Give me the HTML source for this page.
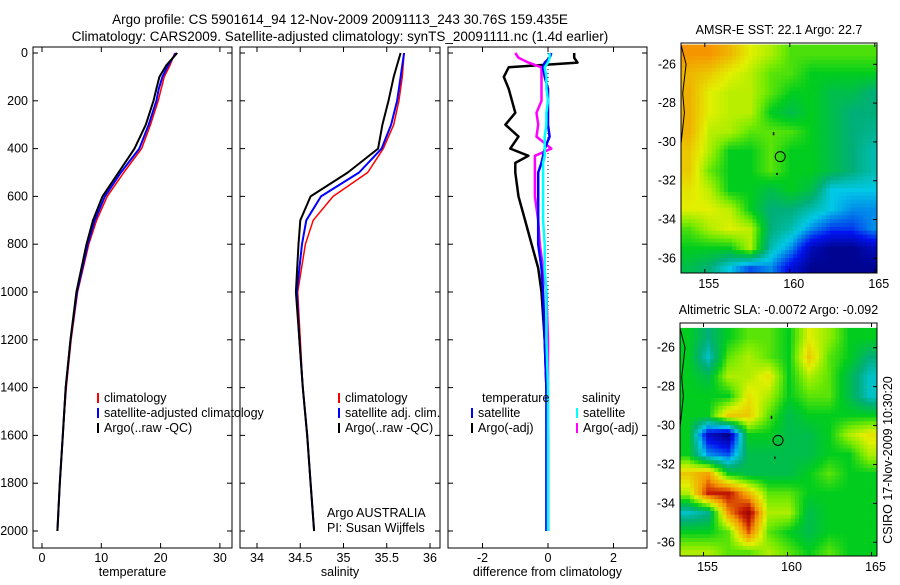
<!DOCTYPE html>
<html><head><meta charset="utf-8"><style>
body{margin:0;background:#fff;width:900px;height:580px;overflow:hidden}
svg text{font-family:"Liberation Sans",sans-serif;font-size:12.5px;fill:#000}
</style></head><body>
<svg id="fig" width="900" height="580" xmlns="http://www.w3.org/2000/svg">
<defs>
<clipPath id="c1"><rect x="681" y="43" width="196" height="230"/></clipPath>
<clipPath id="c2"><rect x="680" y="323" width="197" height="233"/></clipPath>
</defs>
<text x="340" y="24" text-anchor="middle" style="font-size:13.5px">Argo profile: CS 5901614_94 12-Nov-2009 20091113_243 30.76S 159.435E</text>
<text x="340" y="41" text-anchor="middle" style="font-size:13.5px">Climatology: CARS2009. Satellite-adjusted climatology: synTS_20091111.nc (1.4d earlier)</text>
<g id="plots"></g>
<text transform="translate(892,460) rotate(-90)" text-anchor="middle">CSIRO 17-Nov-2009 10:30:20</text>
</svg>
<script>
const depths=[0,50,100,150,200,300,400,500,600,700,800,1000,1200,1400,1600,1800,2000];
const tClim=[22.4,21.6,20.6,20.1,19.6,18.3,16.8,13.8,11.0,9.2,7.9,6.0,4.9,4.1,3.5,3.0,2.6];
const tSat=[22.6,21.3,20.3,19.7,19.3,18.0,16.4,13.3,10.6,8.9,7.7,5.9,4.8,4.0,3.5,3.0,2.6];
const tArgo=[22.8,21.0,19.8,19.3,18.8,17.5,15.6,12.9,10.2,8.6,7.5,5.8,4.8,4.0,3.5,3.0,2.6];
const sClim=[35.70,35.69,35.68,35.66,35.64,35.58,35.46,35.28,34.88,34.65,34.56,34.47,34.50,34.53,34.58,34.62,34.66];
const sSat=[35.70,35.68,35.66,35.64,35.62,35.55,35.44,35.18,34.74,34.57,34.52,34.46,34.49,34.53,34.58,34.62,34.66];
const sArgo=[35.66,35.62,35.58,35.55,35.52,35.45,35.40,35.05,34.62,34.50,34.48,34.45,34.49,34.53,34.58,34.62,34.66];
const ddepths=[0,20,40,60,100,150,200,250,300,350,400,430,460,500,600,700,800,900,1000,1200,1400,1600,2000];
const dT=[0.8,0.8,0.9,-1.2,-1.35,-1.2,-1.1,-1.0,-1.3,-0.9,-1.15,-0.6,-1.0,-1.0,-0.9,-0.7,-0.5,-0.3,-0.2,-0.1,-0.05,0,0];
const dTsat=[0.1,0.05,-0.1,-0.15,-0.1,0.0,0.0,0.0,0.0,0.05,-0.1,-0.15,-0.2,-0.3,-0.3,-0.3,-0.3,-0.2,-0.15,-0.1,-0.05,-0.05,-0.05];
const dS=[-1.0,-0.9,-0.6,-0.2,-0.2,-0.2,-0.2,-0.35,-0.3,-0.35,0.1,-0.4,-0.4,-0.4,-0.4,-0.3,-0.25,-0.15,-0.05,0,0,0,0];
const dSsat=[0.05,0.05,0.0,-0.1,-0.05,-0.05,0.0,-0.05,-0.05,-0.1,-0.1,-0.1,-0.15,-0.15,-0.15,-0.15,-0.1,-0.1,-0.05,-0.05,0,0,0];
const sstGrid=[
[.8,.8,.75,.66,.62,.55,.55,.55,.55,.55],
[.75,.72,.66,.63,.56,.55,.5,.5,.5,.5],
[.76,.66,.63,.63,.56,.5,.5,.45,.45,.4],
[.76,.66,.63,.63,.5,.45,.5,.45,.4,.4],
[.76,.63,.62,.56,.56,.55,.5,.45,.4,.38],
[.72,.62,.5,.5,.56,.5,.5,.45,.4,.35],
[.72,.57,.5,.5,.56,.5,.5,.45,.4,.35],
[.68,.63,.5,.5,.45,.5,.45,.3,.3,.3],
[.66,.66,.63,.5,.4,.4,.35,.3,.25,.25],
[.55,.62,.66,.63,.4,.35,.25,.18,.18,.25],
[.5,.5,.5,.62,.35,.25,.08,.03,.03,.08],
[.45,.4,.3,.2,.25,.12,.03,.03,.03,.03]];
const slaGrid=[
[.5,.4,.5,.56,.56,.5,.66,.6,.5,.5],
[.5,.33,.56,.62,.56,.5,.72,.56,.5,.4],
[.5,.45,.62,.62,.68,.5,.62,.56,.45,.33],
[.5,.5,.5,.68,.62,.5,.56,.56,.45,.33],
[.5,.5,.72,.72,.56,.45,.5,.5,.5,.5],
[.5,.1,.02,.5,.5,.45,.45,.5,.62,.68],
[.5,.25,.2,.45,.45,.45,.45,.5,.5,.62],
[.72,.78,.5,.45,.45,.45,.5,.56,.5,.5],
[.62,.9,.92,.75,.56,.56,.5,.5,.5,.5],
[.33,.38,.8,.97,.62,.62,.45,.5,.5,.5],
[.5,.5,.56,.85,.56,.5,.45,.5,.5,.5],
[.62,.62,.56,.56,.62,.56,.5,.56,.5,.5]];
const floatLon=159.435, floatLat=-30.76;

const NS='http://www.w3.org/2000/svg';
const G=document.getElementById('plots');
function el(t,a,p){const e=document.createElementNS(NS,t);for(const k in a)e.setAttribute(k,a[k]);(p||G).appendChild(e);return e;}
function tx(x,y,s,anc,p){const e=el('text',{x:x,y:y,'text-anchor':anc||'middle'},p);e.textContent=s;return e;}
const yD=d=>53+d*0.239;
function line(xs,ds,sc,col,w,name){
  const pts=xs.map((v,i)=>sc(v).toFixed(1)+','+yD(ds[i]).toFixed(1)).join(' ');
  const e=el('polyline',{points:pts,fill:'none',stroke:col,'stroke-width':w,'stroke-linejoin':'round'});
  
  
}
function panel(x0,x1,sc,ticks,labels,xlabel,name,showY){
  const f=el('rect',{x:x0,y:47,width:x1-x0,height:501,fill:'none',stroke:'#000','stroke-width':1});
  
  
  ticks.forEach((v,i)=>{const x=sc(v);el('line',{x1:x,x2:x,y1:47,y2:52,stroke:'#000'});el('line',{x1:x,x2:x,y1:543,y2:548,stroke:'#000'});
    const t=tx(x,562,labels[i]);});
  for(let d=0;d<=2000;d+=200){const y=yD(d);el('line',{x1:x0,x2:x0+5,y1:y,y2:y,stroke:'#000'});el('line',{x1:x1-5,x2:x1,y1:y,y2:y,stroke:'#000'});
    if(showY){const t=tx(28,y+4,String(d),'end');}}
  const xl=tx((x0+x1)/2,576,xlabel);
}
const sT=v=>42+v*5.93, sS=v=>257+(v-34)*86.5, sD=v=>548+v*32.75;
panel(33,232,sT,[0,10,20,30],['0','10','20','30'],'temperature','temperature-panel',true);
panel(240,440,sS,[34,34.5,35,35.5,36],['34','34.5','35','35.5','36'],'salinity','salinity-panel',false);
panel(448,647,sD,[-2,0,2],['-2','0','2'],'difference from climatology','difference-panel',false);
el('line',{x1:548,x2:548,y1:53,y2:531,stroke:'#000','stroke-dasharray':'1,3'});
line(tClim,depths,sT,'#f00',1.5,'temp-climatology-line');
line(tSat,depths,sT,'#00f',2,'temp-satellite-line');
line(tArgo,depths,sT,'#000',2,'temp-argo-line');
line(sClim,depths,sS,'#f00',1.5,'sal-climatology-line');
line(sSat,depths,sS,'#00f',2,'sal-satellite-line');
line(sArgo,depths,sS,'#000',2,'sal-argo-line');
line(dT,ddepths,sD,'#000',2.5,'diff-temp-argo-line');
line(dS,ddepths,sD,'#f0f',2.5,'diff-sal-argo-line');
line(dTsat,ddepths,sD,'#00f',2.5,'diff-temp-satellite-line');
line(dSsat,ddepths,sD,'#0ff',2.5,'diff-sal-satellite-line');
function leg(x,y,col,s,name){el('line',{x1:x,x2:x,y1:y-9,y2:y+1,stroke:col,'stroke-width':2});const t=tx(x+6,y,s,'start');}
leg(98,402,'#f00','climatology','legend-temp-climatology');
leg(98,417,'#00f','satellite-adjusted climatology','legend-temp-satellite');
leg(98,432,'#000','Argo(..raw -QC)','legend-temp-argo');
leg(339,402,'#f00','climatology','legend-sal-climatology');
leg(339,417,'#00f','satellite adj. clim.','legend-sal-satellite');
leg(339,432,'#000','Argo(..raw -QC)','legend-sal-argo');
let t=tx(482,402,'temperature','start');
leg(472,417,'#00f','satellite','legend-diff-temp-satellite');
leg(472,432,'#000','Argo(-adj)','legend-diff-temp-argo');
t=tx(582,402,'salinity','start');
leg(577,417,'#0ff','satellite','legend-diff-sal-satellite');
leg(577,432,'#f0f','Argo(-adj)','legend-diff-sal-argo');
t=tx(327,517,'Argo AUSTRALIA','start');
t=tx(327,532,'PI: Susan Wijffels','start');

const cmapV=[0,.15,.3,.4,.5,.58,.66,.8,.9,1];
const cmapC=[[0,0,120],[0,20,240],[0,200,230],[0,175,120],[0,205,30],[120,235,0],[225,240,0],[245,150,0],[200,30,0],[140,0,0]];
function cmap(v){v=Math.max(0,Math.min(1,v));for(let k=1;k<cmapV.length;k++){if(v<=cmapV[k]){const f=(v-cmapV[k-1])/(cmapV[k]-cmapV[k-1]);const a=cmapC[k-1],b=cmapC[k];return `rgb(${Math.round(a[0]+(b[0]-a[0])*f)},${Math.round(a[1]+(b[1]-a[1])*f)},${Math.round(a[2]+(b[2]-a[2])*f)})`;}}return 'rgb(140,0,0)';}
function samp(grid,fi,fj){const ny=grid.length,nx=grid[0].length;fi=Math.max(0,Math.min(nx-1,fi));fj=Math.max(0,Math.min(ny-1,fj));
  const i0=Math.floor(fi),j0=Math.floor(fj),i1=Math.min(nx-1,i0+1),j1=Math.min(ny-1,j0+1),a=fi-i0,b=fj-j0;
  return (grid[j0][i0]*(1-a)+grid[j0][i1]*a)*(1-b)+(grid[j1][i0]*(1-a)+grid[j1][i1]*a)*b;}
function map(grid,box,clip,title,name){
  const lon0=153.5,lat0=-25,nx=grid[0].length,ny=grid.length,dlon=12/nx,dlat=12/ny,S=5;
  const X=lon=>box.x0+(lon-box.lonL)*box.px, Y=lat=>box.yref+(box.latref-lat)*box.py;
  const g=el('g',{'clip-path':'url(#'+clip+')'});
  
  
  for(let j=0;j<ny*S;j++)for(let i=0;i<nx*S;i++){
    const v=samp(grid,(i+0.5)/S-0.5,(j+0.5)/S-0.5);
    const c=el('rect',{x:(X(lon0+i*dlon/S)-0.3).toFixed(1),y:(Y(lat0-j*dlat/S)-0.3).toFixed(1),width:(dlon/S*box.px+0.6).toFixed(1),height:(dlat/S*box.py+0.6).toFixed(1),fill:cmap(v)},g);
    
    
  }
  el('path',{d:`M${X(153.6)} ${Y(-25)} L${X(153.9)} ${Y(-26)} L${X(153.7)} ${Y(-27.5)} L${X(153.8)} ${Y(-28.5)} L${X(153.6)} ${Y(-30.1)}`,fill:'none',stroke:'#000','stroke-width':1},g);
  const fx=X(floatLon),fy=Y(floatLat);
  const c=el('circle',{cx:fx,cy:fy,r:5,fill:'none',stroke:'#000'},g);
  
  
  el('rect',{x:X(159),y:Y(-29.5),width:1.5,height:3,fill:'#000'},g);
  el('rect',{x:X(159.2),y:Y(-31.6),width:1.5,height:2,fill:'#000'},g);
  const f=el('rect',{x:box.x0,y:box.y0,width:box.x1-box.x0,height:box.y1-box.y0,fill:'none',stroke:'#000'});
  
  
  [155,160,165].forEach(l=>{const x=X(l);el('line',{x1:x,x2:x,y1:box.y0,y2:box.y0+4,stroke:'#000'});el('line',{x1:x,x2:x,y1:box.y1-4,y2:box.y1,stroke:'#000'});
    const t=tx(x+4,box.y1+15,String(l));});
  [26,28,30,32,34,36].forEach(l=>{const y=Y(-l);el('line',{x1:box.x1-4,x2:box.x1,y1:y,y2:y,stroke:'#000'});
    const t=tx(box.x0-5,y+4,'-'+l,'end');});
  const tt=tx((box.x0+box.x1)/2,box.y0-9,title);
}
map(sstGrid,{x0:681,x1:877,y0:43,y1:273,lonL:153.6,px:17,yref:64.3,latref:-26,py:19.4},'c1','AMSR-E SST: 22.1 Argo: 22.7','sst-map');
map(slaGrid,{x0:680,x1:877,y0:323,y1:556,lonL:153.6,px:16.8,yref:347.7,latref:-26,py:19.46},'c2','Altimetric SLA: -0.0072 Argo: -0.092','sla-map');
</script>
</body></html>
